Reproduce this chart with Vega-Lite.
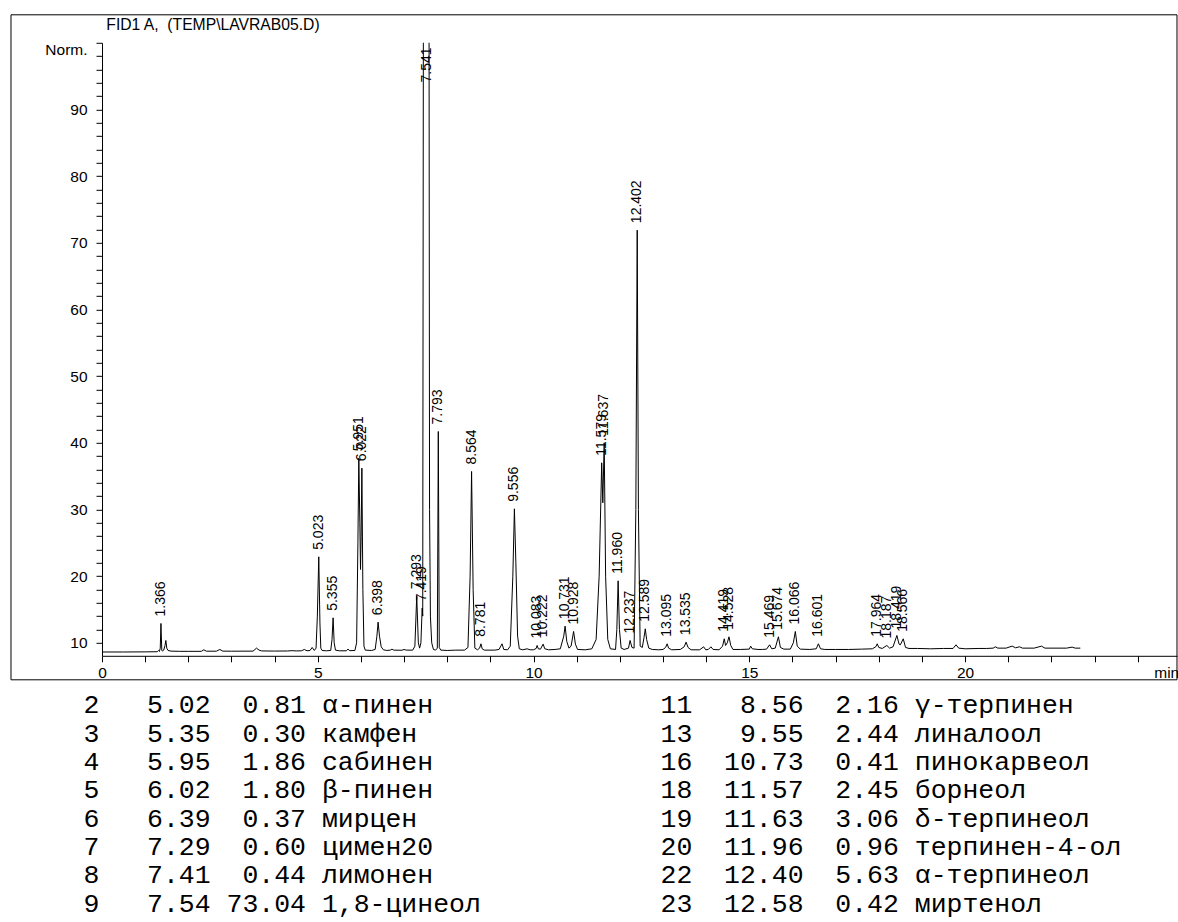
{
  "$schema": "https://vega.github.io/schema/vega-lite/v6.json",
  "background": "white",
  "padding": {"left": 10, "top": 13.8, "right": 0, "bottom": 6},
  "config": {
    "view": {"stroke": null},
    "concat": {"spacing": 9.5},
    "axis": {"grid": false, "domainColor": "#000", "domainWidth": 1, "tickColor": "#000", "tickWidth": 1, "labelColor": "#000", "labelFont": "Liberation Sans", "labelFontSize": 15.5, "tickSize": 6, "labelOverlap": false, "labelFlush": false, "labelBound": false}
  },
  "datasets": {
    "trace": [
      {"t":0.00,"v":8.62},{"t":0.50,"v":8.62},{"t":1.00,"v":8.64},{"t":1.28,"v":8.66},{"t":1.31,"v":8.85},{"t":1.33,"v":8.70},{"t":1.35,"v":9.2},{"t":1.366,"v":12.9},{"t":1.385,"v":8.9},{"t":1.40,"v":8.75},{"t":1.43,"v":8.9},{"t":1.46,"v":9.6},{"t":1.48,"v":10.35},{"t":1.50,"v":9.2},{"t":1.53,"v":8.85},{"t":1.60,"v":8.75},{"t":1.80,"v":8.72},{"t":2.00,"v":8.72},{"t":2.30,"v":8.72},{"t":2.36,"v":8.95},{"t":2.42,"v":8.74},{"t":2.65,"v":8.74},{"t":2.73,"v":9.0},{"t":2.80,"v":8.75},{"t":3.00,"v":8.74},{"t":3.50,"v":8.75},{"t":3.58,"v":9.2},{"t":3.64,"v":8.9},{"t":3.70,"v":8.78},{"t":4.00,"v":8.76},{"t":4.30,"v":8.77},{"t":4.40,"v":8.82},{"t":4.50,"v":8.78},{"t":4.62,"v":8.8},{"t":4.69,"v":9.0},{"t":4.75,"v":8.8},{"t":4.82,"v":8.85},{"t":4.87,"v":9.3},{"t":4.92,"v":8.85},{"t":4.96,"v":9.2},{"t":4.99,"v":14.0},{"t":5.023,"v":22.9},{"t":5.05,"v":13.0},{"t":5.07,"v":9.2},{"t":5.10,"v":8.85},
      {"t":5.20,"v":8.80},{"t":5.30,"v":8.85},{"t":5.33,"v":10.5},{"t":5.355,"v":13.75},{"t":5.38,"v":10.0},{"t":5.41,"v":8.9},{"t":5.50,"v":8.8},{"t":5.66,"v":8.8},{"t":5.70,"v":9.05},{"t":5.74,"v":8.82},{"t":5.86,"v":8.85},{"t":5.90,"v":10.0},{"t":5.93,"v":25.0},{"t":5.951,"v":37.7},{"t":5.975,"v":28.0},{"t":5.99,"v":21.0},{"t":6.005,"v":26.0},{"t":6.022,"v":36.2},{"t":6.045,"v":18.0},{"t":6.07,"v":9.5},{"t":6.10,"v":8.9},{"t":6.25,"v":8.85},{"t":6.33,"v":9.0},{"t":6.37,"v":11.0},{"t":6.398,"v":13.1},{"t":6.43,"v":11.0},{"t":6.47,"v":9.4},{"t":6.52,"v":8.95},{"t":6.60,"v":8.85},{"t":6.68,"v":8.9},{"t":6.72,"v":9.05},{"t":6.76,"v":8.9},{"t":6.95,"v":8.88},{"t":7.00,"v":9.0},{"t":7.05,"v":8.9},{"t":7.20,"v":8.9},{"t":7.25,"v":9.5},{"t":7.293,"v":17.0},{"t":7.33,"v":10.0},{"t":7.36,"v":9.2},{"t":7.39,"v":10.0},{"t":7.419,"v":15.2},{"t":7.432,"v":14.0},{"t":7.447,"v":105},{"t":7.51,"v":400},{"t":7.578,"v":105},{"t":7.59,"v":30},{"t":7.61,"v":14},{"t":7.64,"v":10.0},{"t":7.68,"v":9.0},{"t":7.73,"v":8.9},{"t":7.77,"v":9.2},{"t":7.793,"v":41.7},{"t":7.815,"v":9.3},{"t":7.85,"v":8.9},{"t":8.00,"v":8.85},{"t":8.20,"v":8.9},{"t":8.40,"v":8.9},{"t":8.48,"v":9.3},{"t":8.53,"v":20.0},{"t":8.564,"v":35.7},{"t":8.60,"v":18.0},{"t":8.64,"v":9.2},{"t":8.70,"v":8.95},{"t":8.75,"v":9.2},{"t":8.781,"v":9.85},{"t":8.81,"v":9.1},{"t":8.86,"v":8.9},{"t":9.10,"v":8.9},{"t":9.20,"v":9.0},{"t":9.27,"v":9.85},{"t":9.31,"v":9.0},{"t":9.40,"v":8.95},{"t":9.46,"v":9.5},{"t":9.52,"v":20.0},{"t":9.556,"v":30.1},{"t":9.59,"v":22.0},{"t":9.63,"v":11.0},{"t":9.67,"v":9.1},{"t":9.75,"v":8.95},{"t":9.85,"v":9.1},{"t":9.92,"v":8.95},{"t":10.00,"v":8.95},{"t":10.06,"v":9.15},{"t":10.083,"v":9.6},{"t":10.11,"v":9.1},{"t":10.16,"v":9.05},{"t":10.222,"v":9.8},{"t":10.26,"v":9.1},{"t":10.35,"v":8.95},{"t":10.50,"v":9.0},{"t":10.62,"v":9.1},{"t":10.70,"v":11.0},{"t":10.731,"v":12.5},{"t":10.77,"v":10.2},{"t":10.82,"v":9.2},{"t":10.87,"v":9.5},{"t":10.928,"v":11.7},{"t":10.97,"v":9.8},{"t":11.02,"v":9.0},{"t":11.20,"v":8.95},{"t":11.35,"v":9.1},{"t":11.45,"v":10.5},{"t":11.52,"v":20.0},{"t":11.579,"v":37.0},{"t":11.605,"v":31.0},{"t":11.637,"v":40.0},{"t":11.67,"v":20.0},{"t":11.72,"v":10.5},{"t":11.78,"v":9.1},{"t":11.90,"v":9.0},{"t":11.93,"v":12.0},{"t":11.960,"v":19.3},{"t":11.99,"v":12.0},{"t":12.03,"v":9.2},{"t":12.10,"v":9.0},{"t":12.20,"v":9.2},{"t":12.237,"v":10.35},{"t":12.28,"v":9.3},{"t":12.33,"v":9.2},{"t":12.37,"v":30.0},{"t":12.402,"v":71.9},{"t":12.43,"v":30.0},{"t":12.47,"v":9.5},{"t":12.52,"v":9.3},{"t":12.56,"v":10.8},{"t":12.589,"v":12.1},{"t":12.62,"v":10.5},{"t":12.67,"v":9.2},{"t":12.75,"v":9.0},{"t":12.90,"v":8.95},{"t":13.00,"v":9.0},{"t":13.06,"v":9.3},{"t":13.095,"v":9.85},{"t":13.13,"v":9.2},{"t":13.20,"v":8.95},{"t":13.40,"v":9.0},{"t":13.49,"v":9.4},{"t":13.535,"v":10.1},{"t":13.58,"v":9.3},{"t":13.65,"v":8.95},{"t":13.85,"v":8.95},{"t":13.94,"v":9.4},{"t":13.99,"v":8.95},{"t":14.05,"v":9.0},{"t":14.11,"v":9.4},{"t":14.16,"v":9.0},{"t":14.30,"v":8.95},{"t":14.38,"v":9.5},{"t":14.419,"v":10.6},{"t":14.45,"v":9.6},{"t":14.49,"v":10.0},{"t":14.528,"v":10.9},{"t":14.57,"v":9.6},{"t":14.62,"v":9.0},{"t":14.80,"v":9.0},{"t":15.00,"v":9.05},{"t":15.03,"v":9.5},{"t":15.07,"v":9.1},{"t":15.20,"v":9.0},{"t":15.30,"v":9.0},{"t":15.40,"v":9.05},{"t":15.469,"v":9.7},{"t":15.52,"v":9.1},{"t":15.60,"v":9.2},{"t":15.674,"v":10.9},{"t":15.72,"v":9.3},{"t":15.80,"v":9.05},{"t":15.95,"v":9.05},{"t":16.02,"v":10.0},{"t":16.066,"v":11.7},{"t":16.11,"v":9.5},{"t":16.18,"v":9.05},{"t":16.40,"v":9.0},{"t":16.55,"v":9.1},{"t":16.601,"v":9.85},{"t":16.65,"v":9.1},{"t":16.75,"v":9.0},{"t":17.00,"v":9.0},{"t":17.30,"v":9.0},{"t":17.60,"v":9.05},{"t":17.85,"v":9.1},{"t":17.93,"v":9.4},{"t":17.964,"v":9.85},{"t":18.00,"v":9.3},{"t":18.08,"v":9.15},{"t":18.187,"v":9.6},{"t":18.25,"v":9.2},{"t":18.33,"v":9.4},{"t":18.419,"v":11.1},{"t":18.47,"v":9.8},{"t":18.50,"v":9.7},{"t":18.566,"v":10.6},{"t":18.62,"v":9.3},{"t":18.70,"v":9.15},{"t":18.90,"v":9.15},{"t":19.20,"v":9.1},{"t":19.50,"v":9.15},{"t":19.72,"v":9.15},{"t":19.79,"v":9.7},{"t":19.85,"v":9.2},{"t":20.00,"v":9.1},{"t":20.30,"v":9.15},{"t":20.50,"v":9.15},{"t":20.65,"v":9.2},{"t":20.70,"v":9.4},{"t":20.76,"v":9.2},{"t":20.95,"v":9.2},{"t":21.09,"v":9.5},{"t":21.17,"v":9.25},{"t":21.26,"v":9.4},{"t":21.33,"v":9.2},{"t":21.60,"v":9.2},{"t":21.77,"v":9.5},{"t":21.85,"v":9.2},{"t":22.20,"v":9.2},{"t":22.35,"v":9.2},{"t":22.48,"v":9.35},{"t":22.55,"v":9.2},{"t":22.67,"v":9.2}
    ],
    "peaks": [
      {"rt":1.366,"h":12.9},{"rt":5.023,"h":22.9},{"rt":5.355,"h":13.75},{"rt":5.951,"h":37.7},{"rt":6.022,"h":36.2},{"rt":6.398,"h":13.1},{"rt":7.293,"h":17.0},{"rt":7.419,"h":15.2},{"rt":7.541,"h":93.0},{"rt":7.793,"h":41.7},{"rt":8.564,"h":35.7},{"rt":8.781,"h":9.85},{"rt":9.556,"h":30.1},{"rt":10.083,"h":9.6},{"rt":10.222,"h":9.8},{"rt":10.731,"h":12.5},{"rt":10.928,"h":11.7},{"rt":11.579,"h":37.0},{"rt":11.637,"h":40.0},{"rt":11.960,"h":19.3},{"rt":12.237,"h":10.35},{"rt":12.402,"h":71.9},{"rt":12.589,"h":12.1},{"rt":13.095,"h":9.85},{"rt":13.535,"h":10.1},{"rt":14.419,"h":10.6},{"rt":14.528,"h":10.9},{"rt":15.469,"h":9.7},{"rt":15.674,"h":10.9},{"rt":16.066,"h":11.7},{"rt":16.601,"h":9.85},{"rt":17.964,"h":9.85},{"rt":18.187,"h":9.6},{"rt":18.419,"h":11.1},{"rt":18.566,"h":10.6}
    ],
    "table": [
      {"side":0,"row":0,"idx":2,"rt":5.02,"area":0.81,"name":"α-пинен"},
      {"side":0,"row":1,"idx":3,"rt":5.35,"area":0.30,"name":"камфен"},
      {"side":0,"row":2,"idx":4,"rt":5.95,"area":1.86,"name":"сабинен"},
      {"side":0,"row":3,"idx":5,"rt":6.02,"area":1.80,"name":"β-пинен"},
      {"side":0,"row":4,"idx":6,"rt":6.39,"area":0.37,"name":"мирцен"},
      {"side":0,"row":5,"idx":7,"rt":7.29,"area":0.60,"name":"цимен20"},
      {"side":0,"row":6,"idx":8,"rt":7.41,"area":0.44,"name":"лимонен"},
      {"side":0,"row":7,"idx":9,"rt":7.54,"area":73.04,"name":"1,8-цинеол"},
      {"side":1,"row":0,"idx":11,"rt":8.56,"area":2.16,"name":"γ-терпинен"},
      {"side":1,"row":1,"idx":13,"rt":9.55,"area":2.44,"name":"линалоол"},
      {"side":1,"row":2,"idx":16,"rt":10.73,"area":0.41,"name":"пинокарвеол"},
      {"side":1,"row":3,"idx":18,"rt":11.57,"area":2.45,"name":"борнеол"},
      {"side":1,"row":4,"idx":19,"rt":11.63,"area":3.06,"name":"δ-терпинеол"},
      {"side":1,"row":5,"idx":20,"rt":11.96,"area":0.96,"name":"терпинен-4-ол"},
      {"side":1,"row":6,"idx":22,"rt":12.40,"area":5.63,"name":"α-терпинеол"},
      {"side":1,"row":7,"idx":23,"rt":12.58,"area":0.42,"name":"миртенол"}
    ]
  },
  "vconcat": [
    {
      "width": 1075,
      "height": 613,
      "resolve": {"axis": {"y": "independent"}},
      "layer": [
        {
          "data": {"name": "trace"},
          "mark": {"type": "line", "clip": true, "color": "#000", "strokeWidth": 1, "interpolate": "linear"},
          "encoding": {
            "x": {
              "field": "t", "type": "quantitative",
              "scale": {"domain": [0, 24.91], "nice": false, "zero": false},
              "axis": {
                "title": null,
                "values": [0,1,2,3,4,5,6,7,8,9,10,11,12,13,14,15,16,17,18,19,20,21,22,23,24,24.66],
                "labelExpr": "datum.value > 24.5 ? 'min' : (datum.value % 5 === 0 ? datum.label : '')",
                "labelFlush": false, "labelOverlap": false, "labelBound": false,
                "labelPadding": 4,
                "tickOpacity": {"condition": {"test": "datum.value > 24.5", "value": 0}, "value": 1}
              }
            },
            "y": {
              "field": "v", "type": "quantitative",
              "scale": {"domain": [8.05, 100], "nice": false, "zero": false},
              "axis": {
                "title": null, "orient": "left",
                "values": [10,20,30,40,50,60,70,80,90,100],
                "labelExpr": "datum.value === 100 ? 'Norm.' : datum.label",
                "labelBaseline": {"condition": {"test": "datum.value === 100", "value": "top"}, "value": "middle"},
                "labelOverlap": false, "labelPadding": 9
              }
            }
          }
        },
        {
          "data": {"values": [{}]},
          "mark": {"type": "rect", "filled": false, "color": "#000", "strokeWidth": 1},
          "encoding": {
            "x": {"datum": -2.109, "type": "quantitative", "title": null},
            "x2": {"datum": 24.91},
            "y": {
              "datum": 4.45, "type": "quantitative",
              "axis": {"title": null, "orient": "left", "values": [12,14,16,18,22,24,26,28,32,34,36,38,42,44,46,48,52,54,56,58,62,64,66,68,72,74,76,78,82,84,86,88,92,94,96,98], "labels": false, "domain": false, "ticks": true, "grid": false}
            },
            "y2": {"datum": 104.2}
          }
        },
        {
          "data": {"name": "peaks"},
          "mark": {"type": "text", "angle": 270, "align": "left", "baseline": "middle", "dx": 7, "font": "Liberation Sans", "fontSize": 14, "color": "#000"},
          "encoding": {
            "x": {"field": "rt", "type": "quantitative", "title": null},
            "y": {"field": "h", "type": "quantitative", "axis": null},
            "text": {"field": "rt", "type": "quantitative", "format": ".3f"}
          }
        },
        {
          "data": {"values": [{}]},
          "mark": {"type": "text", "text": "FID1 A, \u00a0(TEMP\\LAVRAB05.D)", "align": "left", "baseline": "middle", "font": "Liberation Sans", "fontSize": 15.7, "color": "#000"},
          "encoding": {
            "x": {"datum": 0.1, "type": "quantitative", "title": null},
            "y": {"datum": 102.6, "type": "quantitative", "axis": null}
          }
        }
      ]
    },
    {
      "width": 1075,
      "height": 226.4,
      "data": {"name": "table"},
      "transform": [
        {"calculate": "pad(toString(datum.idx), 2, '\u00a0', 'left') + '\u00a0' + pad(format(datum.rt, '.2f'), 6, '\u00a0', 'left') + '\u00a0' + pad(format(datum.area, '.2f'), 5, '\u00a0', 'left') + '\u00a0' + datum.name", "as": "line"}
      ],
      "mark": {"type": "text", "align": "left", "baseline": "middle", "font": "Liberation Mono", "fontSize": 26.5, "color": "#000"},
      "encoding": {
        "x": {"field": "side", "type": "quantitative", "scale": {"domain": [0, 1], "range": [-18.5, 558.5]}, "axis": null},
        "y": {"field": "row", "type": "quantitative", "scale": {"domain": [-0.5, 7.5], "reverse": true, "nice": false, "zero": false}, "axis": null},
        "text": {"field": "line", "type": "nominal"}
      }
    }
  ]
}
